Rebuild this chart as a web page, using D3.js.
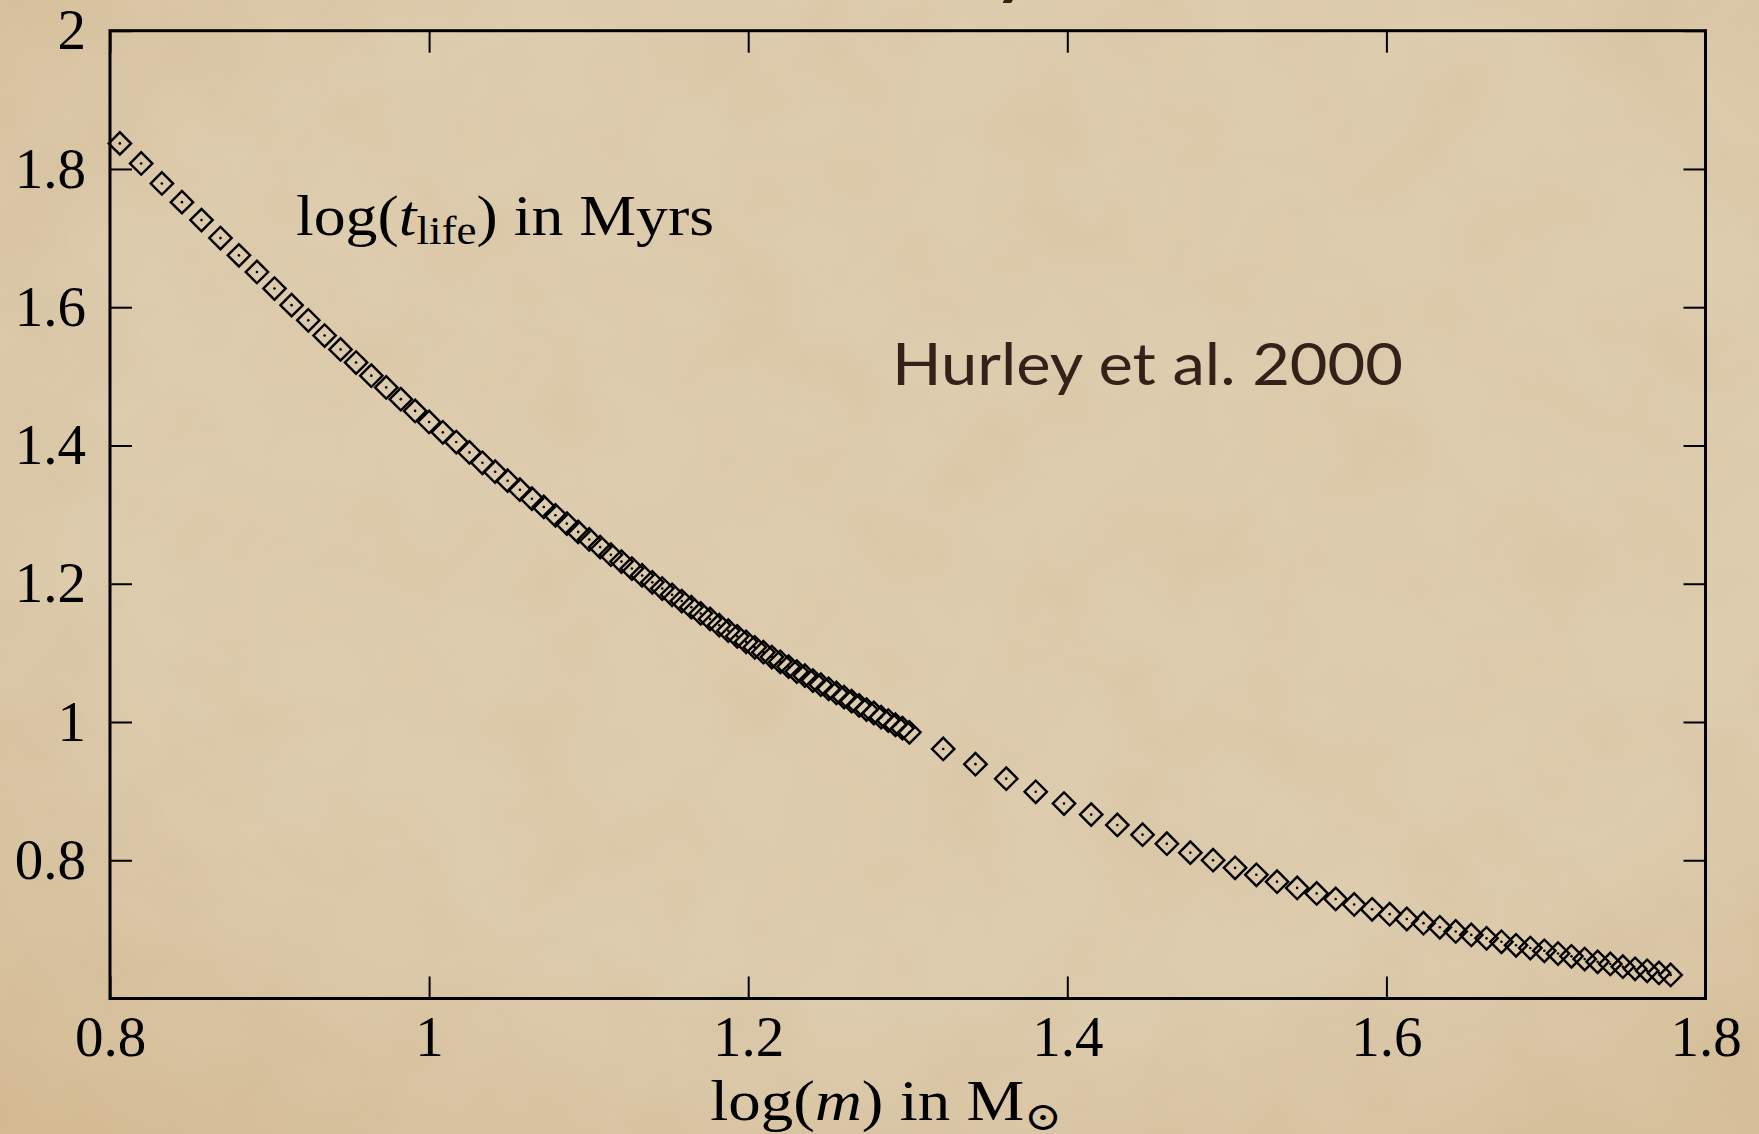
<!DOCTYPE html>
<html>
<head>
<meta charset="utf-8">
<script src="https://cdn.jsdelivr.net/npm/d3@7/dist/d3.min.js"></script>
<style>
  body { margin: 0; background: #dbc8a6; overflow: hidden; }
  .chart svg { display: block; }
</style>
</head>
<body>
<div class="chart"></div>
<script>
// masses (in solar masses) of the dense run, step 0.2
const massLow = [6.4, 6.6, 6.8, 7.0, 7.2, 7.4, 7.6, 7.8, 8.0, 8.2, 8.4, 8.6, 8.8, 9.0, 9.2, 9.4, 9.6, 9.8,
  10.0, 10.2, 10.4, 10.6, 10.8, 11.0, 11.2, 11.4, 11.6, 11.8, 12.0, 12.2, 12.4, 12.6, 12.8, 13.0, 13.2,
  13.4, 13.6, 13.8, 14.0, 14.2, 14.4, 14.6, 14.8, 15.0, 15.2, 15.4, 15.6, 15.8, 16.0, 16.2, 16.4, 16.6,
  16.8, 17.0, 17.2, 17.4, 17.6, 17.8, 18.0, 18.2, 18.4, 18.6, 18.8, 19.0, 19.2, 19.4, 19.6, 19.8, 20.0];
// log(t_life) in Myr
const lifeLow = [1.837, 1.808, 1.779, 1.752, 1.726, 1.700, 1.675, 1.651, 1.627, 1.603, 1.581, 1.559, 1.539,
  1.520, 1.501, 1.484, 1.467, 1.450, 1.434, 1.419, 1.405, 1.390, 1.375, 1.362, 1.349, 1.336, 1.323, 1.311,
  1.299, 1.287, 1.275, 1.264, 1.253, 1.242, 1.232, 1.222, 1.212, 1.202, 1.193, 1.184, 1.175, 1.166, 1.157,
  1.149, 1.140, 1.132, 1.124, 1.116, 1.108, 1.101, 1.094, 1.087, 1.080, 1.073, 1.067, 1.060, 1.054, 1.048,
  1.042, 1.036, 1.030, 1.024, 1.018, 1.013, 1.007, 1.002, 0.996, 0.991, 0.985];

// masses of the sparse run, step 1
const massHigh = [21, 22, 23, 24, 25, 26, 27, 28, 29, 30, 31, 32, 33, 34, 35, 36, 37, 38, 39, 40,
  41, 42, 43, 44, 45, 46, 47, 48, 49, 50, 51, 52, 53, 54, 55, 56, 57, 58, 59, 60];
const lifeHigh = [0.961, 0.939, 0.918, 0.899, 0.882, 0.866, 0.851, 0.837, 0.824, 0.811, 0.800, 0.789,
  0.779, 0.769, 0.760, 0.752, 0.744, 0.736, 0.729, 0.722, 0.715, 0.709, 0.703, 0.697, 0.692, 0.687,
  0.682, 0.677, 0.673, 0.669, 0.665, 0.661, 0.657, 0.653, 0.650, 0.646, 0.643, 0.640, 0.637, 0.634];

const xTicks = [0.8, 1, 1.2, 1.4, 1.6, 1.8];
const yTicks = [0.8, 1, 1.2, 1.4, 1.6, 1.8, 2];

const width = 1759, height = 1134;
const margin = { top: 30.7, right: 53.5, bottom: 135.5, left: 110 };

const points = massLow.map((m, i) => ({ m: m, t: lifeLow[i] }))
  .concat(massHigh.map((m, i) => ({ m: m, t: lifeHigh[i] })));

const svg = d3.select(".chart").append("svg")
  .attr("width", width)
  .attr("height", height);

// parchment background
const defs = svg.append("defs");
const grad = defs.append("radialGradient").attr("id", "vign")
  .attr("cx", "55%").attr("cy", "40%").attr("r", "80%");
grad.append("stop").attr("offset", "60%").attr("stop-color", "#c8a676").attr("stop-opacity", 0);
grad.append("stop").attr("offset", "100%").attr("stop-color", "#c39a62").attr("stop-opacity", 0.35);

const filt = defs.append("filter").attr("id", "paper")
  .attr("x", 0).attr("y", 0).attr("width", "100%").attr("height", "100%");
filt.append("feTurbulence").attr("type", "fractalNoise")
  .attr("baseFrequency", 0.01).attr("numOctaves", 4).attr("seed", 7);
filt.append("feColorMatrix").attr("type", "matrix")
  .attr("values", "0 0 0 0 0.62  0 0 0 0 0.47  0 0 0 0 0.28  0.45 0 0 0 -0.16");

svg.append("rect").attr("width", width).attr("height", height).attr("fill", "#ddccae");
svg.append("rect").attr("width", width).attr("height", height).attr("filter", "url(#paper)");
svg.append("rect").attr("width", width).attr("height", height).attr("fill", "url(#vign)");

const x = d3.scaleLinear()
  .domain([0.8, 1.8])
  .range([margin.left, width - margin.right]);

const y = d3.scaleLinear()
  .domain([0.6, 2])
  .range([height - margin.bottom, margin.top]);

const serif = "'Liberation Serif', 'DejaVu Serif', serif";
const tickLen = 22;

// ticks on all four sides, pointing inward
function styleAxis(g) {
  g.select(".domain").remove();
  g.selectAll(".tick line").attr("stroke", "#000").attr("stroke-width", 2);
  g.selectAll(".tick text")
    .attr("font-family", serif)
    .attr("font-size", 57)
    .attr("fill", "#000");
}

svg.append("g")
  .attr("transform", `translate(0,${y(0.6)})`)
  .call(d3.axisBottom(x).tickValues(xTicks).tickFormat(d => d)
    .tickSizeInner(-tickLen).tickSizeOuter(0).tickPadding(17))
  .call(styleAxis);

svg.append("g")
  .attr("transform", `translate(0,${y(2)})`)
  .call(d3.axisTop(x).tickValues(xTicks).tickFormat("")
    .tickSizeInner(-tickLen).tickSizeOuter(0))
  .call(styleAxis);

svg.append("g")
  .attr("transform", `translate(${x(0.8)},0)`)
  .call(d3.axisLeft(y).tickValues(yTicks).tickFormat(d => d)
    .tickSizeInner(-tickLen).tickSizeOuter(0).tickPadding(24))
  .call(styleAxis);

svg.append("g")
  .attr("transform", `translate(${x(1.8)},0)`)
  .call(d3.axisRight(y).tickValues(yTicks).tickFormat("")
    .tickSizeInner(-tickLen).tickSizeOuter(0))
  .call(styleAxis);

// frame
svg.append("rect")
  .attr("x", x(0.8)).attr("y", y(2))
  .attr("width", x(1.8) - x(0.8))
  .attr("height", y(0.6) - y(2))
  .attr("fill", "none")
  .attr("stroke", "#000")
  .attr("stroke-width", 3);

// diamonds with a dot in the middle
const diamond = d3.symbol(d3.symbolSquare, 250);
const marks = svg.append("g").selectAll("g")
  .data(points)
  .join("g")
  .attr("transform", d => `translate(${x(Math.log10(d.m))},${y(d.t)})`);

marks.append("path")
  .attr("d", diamond)
  .attr("transform", "rotate(45)")
  .attr("fill", "none")
  .attr("stroke", "#000")
  .attr("stroke-width", 2.4);

marks.append("circle")
  .attr("r", 1.3)
  .attr("fill", "#000");

// axis title
const xl = svg.append("text")
  .attr("transform", "translate(886,1120) scale(1.12,1)")
  .attr("text-anchor", "middle")
  .attr("font-family", serif)
  .attr("font-size", 58)
  .attr("fill", "#000");
xl.append("tspan").text("log(");
xl.append("tspan").attr("font-style", "italic").text("m");
xl.append("tspan").text(") in M");
xl.append("tspan").attr("font-size", 40).attr("dy", 10).text("\u2299");

// quantity label inside the plot
const yl = svg.append("text")
  .attr("transform", "translate(296,235) scale(1.1,1)")
  .attr("font-family", serif)
  .attr("font-size", 58)
  .attr("fill", "#000");
yl.append("tspan").text("log(");
yl.append("tspan").attr("font-style", "italic").text("t");
yl.append("tspan").attr("font-size", 41).attr("dy", 9).text("life");
yl.append("tspan").attr("dy", -9).text(") in Myrs");

// reference note
svg.append("text")
  .attr("x", 892).attr("y", 385)
  .attr("font-family", "Lato, 'Open Sans', sans-serif")
  .attr("font-weight", 400)
  .attr("font-size", 58)
  .attr("textLength", 511)
  .attr("lengthAdjust", "spacingAndGlyphs")
  .attr("fill", "#33221a")
  .text("Hurley et al. 2000");

// bottom of the slide title, cut off at the top edge
svg.append("text")
  .attr("x", 990).attr("y", -14)
  .attr("font-family", "Lato, sans-serif")
  .attr("font-size", 100)
  .attr("fill", "#33221a")
  .text("y");
</script>
</body>
</html>
